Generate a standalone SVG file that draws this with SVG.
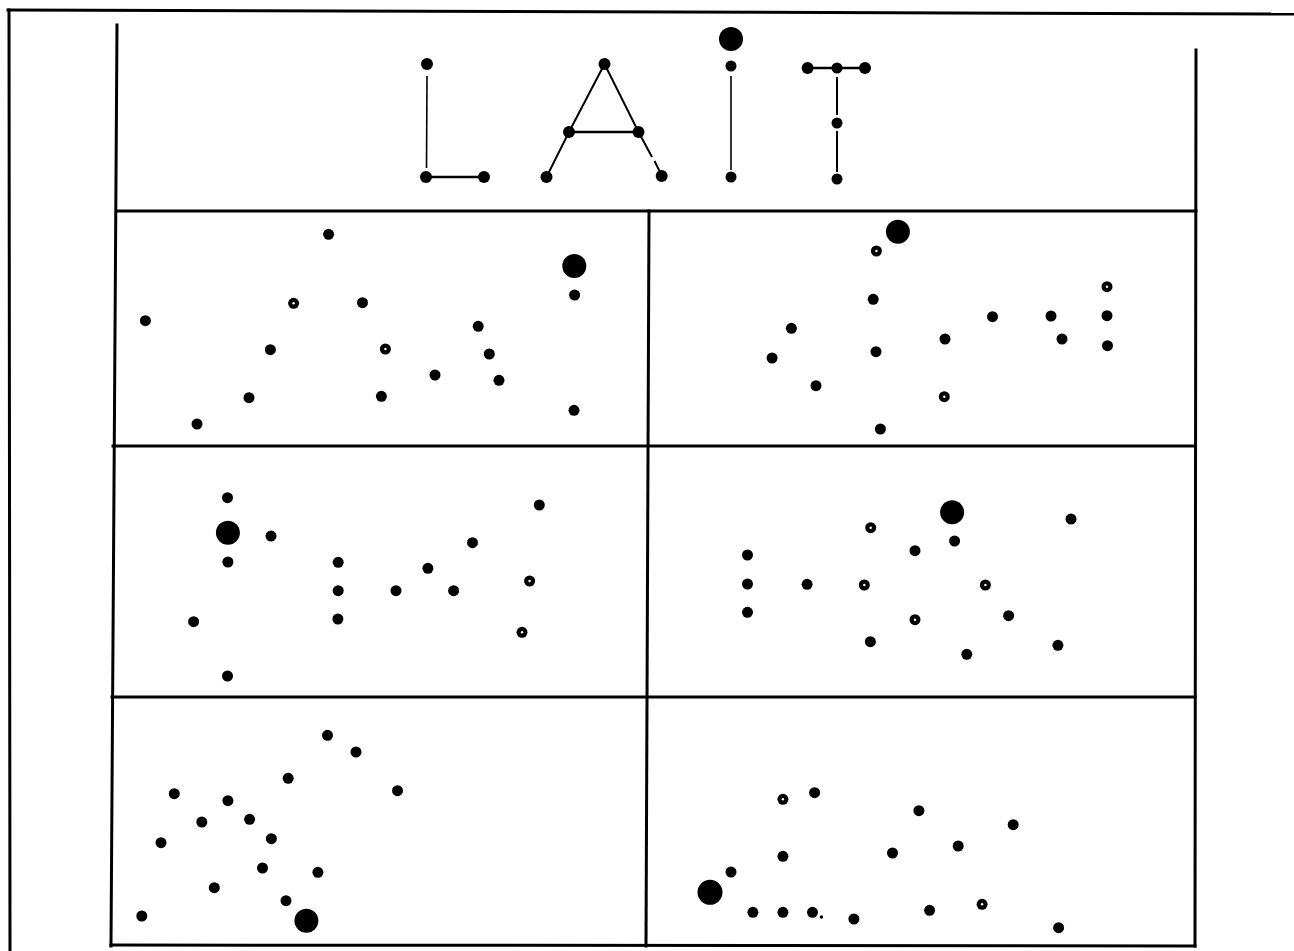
<svg xmlns="http://www.w3.org/2000/svg" width="1294" height="951" viewBox="0 0 1294 951">
<style>
.frame{fill:none;stroke:#000;stroke-width:3;stroke-linecap:square}
.ln{fill:none;stroke:#000;stroke-width:2;stroke-linecap:butt}
.thin{fill:none;stroke:#000;stroke-width:1.6}
.d{fill:#000}
.hl{fill:#fff}
</style>
<rect x="0" y="0" width="1294" height="951" fill="#fff"/>
<g id="frame">
<line class="frame" x1="8" y1="10" x2="1294" y2="14"/>
<line class="frame" x1="9" y1="10" x2="10" y2="951"/>
<polyline class="frame" points="117,25 111,946"/>
<polyline class="frame" points="1196,50 1195,946"/>
<line class="frame" x1="117" y1="211" x2="1196" y2="211"/>
<line class="frame" x1="113" y1="446" x2="1195" y2="446"/>
<line class="frame" x1="112" y1="697" x2="1195" y2="697"/>
<line class="frame" x1="111" y1="945" x2="1195" y2="946"/>
<line class="frame" x1="649" y1="211" x2="646" y2="946"/>
</g>
<g id="connectors">
<line class="thin" x1="427" y1="76" x2="426.5" y2="168"/>
<line class="ln" x1="426" y1="177" x2="484" y2="177" style="stroke-width:2.6"/>
<line class="ln" x1="604.5" y1="64" x2="569" y2="132"/>
<line class="ln" x1="604.5" y1="64" x2="638.5" y2="132"/>
<line class="ln" x1="569" y1="132" x2="638.5" y2="132" style="stroke-width:2.6"/>
<line class="ln" x1="569" y1="132" x2="546.5" y2="177"/>
<line class="ln" x1="638.5" y1="132" x2="652" y2="157"/>
<line class="ln" x1="654.5" y1="161" x2="659.5" y2="171"/>
<line class="thin" x1="731" y1="76" x2="731" y2="170"/>
<line class="ln" x1="807.6" y1="68" x2="865" y2="68" style="stroke-width:2.6"/>
<line class="ln" x1="837" y1="77" x2="837" y2="115"/>
<line class="ln" x1="837" y1="131" x2="837" y2="172"/>
</g>
<g id="header-dots">
<circle class="d" cx="427" cy="64" r="6"/>
<circle class="d" cx="426" cy="177" r="6"/>
<circle class="d" cx="484" cy="177" r="6"/>
<circle class="d" cx="604.5" cy="64" r="6"/>
<circle class="d" cx="569" cy="132" r="6"/>
<circle class="d" cx="638.5" cy="132" r="6"/>
<circle class="d" cx="546.5" cy="177" r="6"/>
<circle class="d" cx="661.7" cy="176" r="6"/>
<circle class="d" cx="731" cy="39" r="12"/>
<circle class="d" cx="731" cy="66" r="5.5"/>
<circle class="d" cx="731" cy="177" r="5.5"/>
<circle class="d" cx="807.6" cy="68" r="6"/>
<circle class="d" cx="837" cy="68" r="5.5"/>
<circle class="d" cx="865" cy="68" r="6"/>
<circle class="d" cx="837" cy="123" r="5.5"/>
<circle class="d" cx="837" cy="179" r="5.5"/>
</g>
<g id="panel1">
<circle class="d" cx="328.6" cy="234.3" r="5.5"/>
<circle class="d" cx="574.3" cy="266" r="12"/>
<circle class="d" cx="574.6" cy="295" r="5.5"/>
<circle class="d" cx="145.4" cy="320.7" r="5.5"/>
<circle class="d" cx="293.6" cy="303.3" r="5.5"/><circle class="hl" cx="293.6" cy="303.3" r="1.2"/>
<circle class="d" cx="362.5" cy="302.7" r="5.5"/>
<circle class="d" cx="478.2" cy="326.3" r="5.5"/>
<circle class="d" cx="270.4" cy="349.7" r="5.5"/>
<circle class="d" cx="385.4" cy="349" r="5.5"/><circle class="hl" cx="385.4" cy="349" r="1.2"/>
<circle class="d" cx="489.3" cy="354" r="5.5"/>
<circle class="d" cx="435" cy="375" r="5.5"/>
<circle class="d" cx="499" cy="380.3" r="5.5"/>
<circle class="d" cx="249" cy="397.7" r="5.5"/>
<circle class="d" cx="381.4" cy="396.3" r="5.5"/>
<circle class="d" cx="197" cy="424" r="5.5"/>
<circle class="d" cx="574" cy="410.3" r="5.5"/>
</g>
<g id="panel2">
<circle class="d" cx="897.9" cy="231.7" r="12"/>
<circle class="d" cx="876.4" cy="251" r="5.5"/><circle class="hl" cx="876.4" cy="251" r="1.2"/>
<circle class="d" cx="873.2" cy="299.3" r="5.5"/>
<circle class="d" cx="791.4" cy="328.3" r="5.5"/>
<circle class="d" cx="772.1" cy="358" r="5.5"/>
<circle class="d" cx="876" cy="351.7" r="5.5"/>
<circle class="d" cx="816" cy="385.7" r="5.5"/>
<circle class="d" cx="945" cy="339" r="5.5"/>
<circle class="d" cx="944.3" cy="396.7" r="5.5"/><circle class="hl" cx="944.3" cy="396.7" r="1.2"/>
<circle class="d" cx="880.4" cy="429" r="5.5"/>
<circle class="d" cx="992.5" cy="316.7" r="5.5"/>
<circle class="d" cx="1051" cy="316" r="5.5"/>
<circle class="d" cx="1062" cy="339" r="5.5"/>
<circle class="d" cx="1107" cy="286.7" r="5.5"/><circle class="hl" cx="1107" cy="286.7" r="1.2"/>
<circle class="d" cx="1107" cy="315.7" r="5.5"/>
<circle class="d" cx="1107.5" cy="345.7" r="5.5"/>
</g>
<g id="panel3">
<circle class="d" cx="227.5" cy="497.7" r="5.5"/>
<circle class="d" cx="227.9" cy="532.7" r="12"/>
<circle class="d" cx="271" cy="536" r="5.5"/>
<circle class="d" cx="227.9" cy="562" r="5.5"/>
<circle class="d" cx="193.6" cy="621.7" r="5.5"/>
<circle class="d" cx="227.5" cy="676" r="5.5"/>
<circle class="d" cx="338.2" cy="562.3" r="5.5"/>
<circle class="d" cx="338.2" cy="590.7" r="5.5"/>
<circle class="d" cx="337.9" cy="619" r="5.5"/>
<circle class="d" cx="396" cy="590.7" r="5.5"/>
<circle class="d" cx="427.9" cy="568.3" r="5.5"/>
<circle class="d" cx="453.6" cy="590.7" r="5.5"/>
<circle class="d" cx="472.5" cy="542.7" r="5.5"/>
<circle class="d" cx="539.3" cy="505" r="5.5"/>
<circle class="d" cx="529.6" cy="581" r="5.5"/><circle class="hl" cx="529.6" cy="581" r="1.2"/>
<circle class="d" cx="522" cy="632.3" r="5.5"/><circle class="hl" cx="522" cy="632.3" r="1.2"/>
</g>
<g id="panel4">
<circle class="d" cx="952.1" cy="512.3" r="12"/>
<circle class="d" cx="1071" cy="519" r="5.5"/>
<circle class="d" cx="870.7" cy="527.7" r="5.5"/><circle class="hl" cx="870.7" cy="527.7" r="1.2"/>
<circle class="d" cx="954.6" cy="541" r="5.5"/>
<circle class="d" cx="915" cy="550.7" r="5.5"/>
<circle class="d" cx="747.5" cy="555" r="5.5"/>
<circle class="d" cx="747.5" cy="584" r="5.5"/>
<circle class="d" cx="747.5" cy="612.3" r="5.5"/>
<circle class="d" cx="807.1" cy="584.3" r="5.5"/>
<circle class="d" cx="864.3" cy="585" r="5.5"/><circle class="hl" cx="864.3" cy="585" r="1.2"/>
<circle class="d" cx="985.4" cy="585" r="5.5"/><circle class="hl" cx="985.4" cy="585" r="1.2"/>
<circle class="d" cx="915" cy="619.7" r="5.5"/><circle class="hl" cx="915" cy="619.7" r="1.2"/>
<circle class="d" cx="1008.6" cy="615.7" r="5.5"/>
<circle class="d" cx="870.4" cy="641.7" r="5.5"/>
<circle class="d" cx="966.8" cy="654.3" r="5.5"/>
<circle class="d" cx="1057.9" cy="645.3" r="5.5"/>
</g>
<g id="panel5">
<circle class="d" cx="327.5" cy="735.3" r="5.5"/>
<circle class="d" cx="356" cy="752" r="5.5"/>
<circle class="d" cx="288.2" cy="778.3" r="5.5"/>
<circle class="d" cx="397.5" cy="790.7" r="5.5"/>
<circle class="d" cx="174.3" cy="793.7" r="5.5"/>
<circle class="d" cx="227.9" cy="800.7" r="5.5"/>
<circle class="d" cx="201.8" cy="822" r="5.5"/>
<circle class="d" cx="249.6" cy="819.3" r="5.5"/>
<circle class="d" cx="161" cy="842.7" r="5.5"/>
<circle class="d" cx="271.4" cy="838.7" r="5.5"/>
<circle class="d" cx="262.5" cy="868" r="5.5"/>
<circle class="d" cx="317.9" cy="872.3" r="5.5"/>
<circle class="d" cx="214.3" cy="887.7" r="5.5"/>
<circle class="d" cx="286" cy="900.7" r="5.5"/>
<circle class="d" cx="141.8" cy="916" r="5.5"/>
<circle class="d" cx="306.4" cy="920.7" r="12"/>
</g>
<g id="panel6">
<circle class="d" cx="782.9" cy="799.3" r="5.5"/><circle class="hl" cx="782.9" cy="799.3" r="1.2"/>
<circle class="d" cx="814.6" cy="792.7" r="5.5"/>
<circle class="d" cx="918.9" cy="810.7" r="5.5"/>
<circle class="d" cx="1013.2" cy="824.7" r="5.5"/>
<circle class="d" cx="958.2" cy="846" r="5.5"/>
<circle class="d" cx="892.5" cy="853" r="5.5"/>
<circle class="d" cx="782.9" cy="856.3" r="5.5"/>
<circle class="d" cx="731" cy="872" r="5.5"/>
<circle class="d" cx="710" cy="892.3" r="12.5"/>
<circle class="d" cx="752.9" cy="912.3" r="5.5"/>
<circle class="d" cx="782.9" cy="912.3" r="5.5"/>
<circle class="d" cx="812.5" cy="912.3" r="5.5"/>
<circle class="d" cx="821.4" cy="917" r="1.8"/>
<circle class="d" cx="853.9" cy="919" r="5.5"/>
<circle class="d" cx="929.6" cy="910.3" r="5.5"/>
<circle class="d" cx="982.1" cy="904.3" r="5.5"/><circle class="hl" cx="982.1" cy="904.3" r="1.2"/>
<circle class="d" cx="1058.6" cy="927.7" r="5.5"/>
</g>
</svg>
